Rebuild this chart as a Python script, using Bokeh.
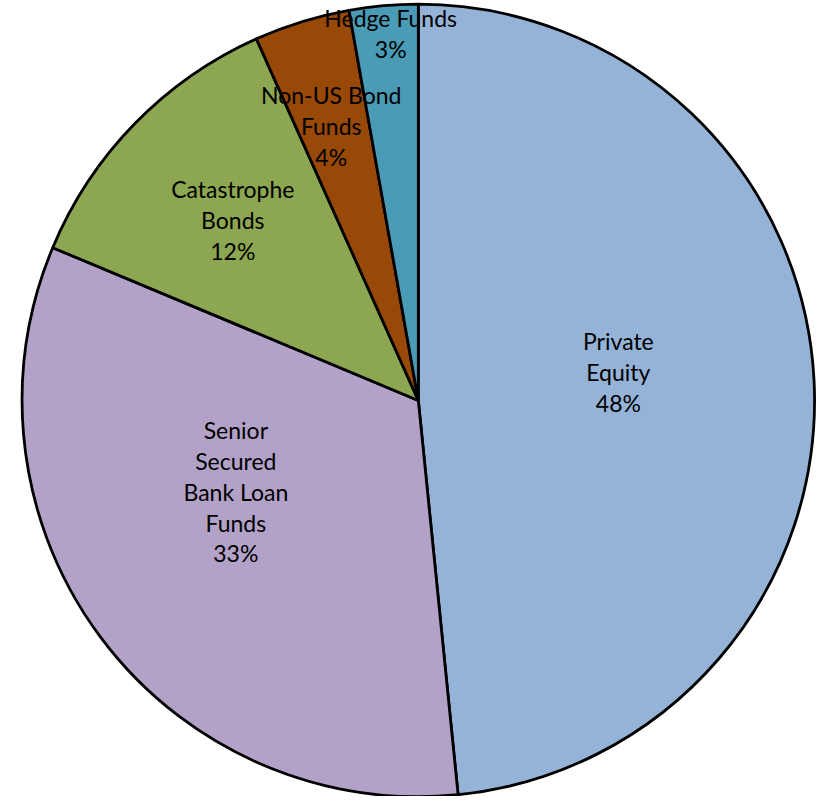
import math
from bokeh.plotting import figure
from bokeh.models import ColumnDataSource, Range1d
from bokeh.core.properties import value
from bokeh.embed import file_html
from bokeh.resources import INLINE

# data
categories = ["Private Equity", "Senior Secured Bank Loan Funds", "Catastrophe Bonds",
              "Non-US Bond Funds", "Hedge Funds"]
shares = [48.4, 32.9, 12.0, 3.9, 2.8]
pct_labels = ["48%", "33%", "12%", "4%", "3%"]
label_lines = ["Private\nEquity", "Senior\nSecured\nBank Loan\nFunds", "Catastrophe\nBonds",
               "Non-US Bond\nFunds", "Hedge Funds"]
colors = ["#95B3D7", "#B3A2C7", "#8CA651", "#984807", "#4A9BB5"]

# layout: data units follow the reference picture (833 x 812), y pointing up
W, H = 817, 796
REF_W, REF_H = 833, 812
cx, cy = 426, REF_H - 408
R = 404
# label placement: (radius fraction, clockwise angle from top in degrees)
label_polar = [(0.51, 81.9), (0.515, 243.4), (0.653, 314.2), (0.727, 342.4), (0.93, 355.7)]

total = sum(shares)
starts, ends = [], []
cum = 0.0
for s in shares:
    starts.append(math.pi / 2 - 2 * math.pi * cum / total)
    cum += s
    ends.append(math.pi / 2 - 2 * math.pi * cum / total)

src = ColumnDataSource(dict(start=starts, end=ends, color=colors, cat=categories))

p = figure(width=W, height=H, output_backend="svg", toolbar_location=None,
           x_range=Range1d(0, REF_W), y_range=Range1d(0, REF_H),
           min_border=0)
p.axis.visible = False
p.grid.visible = False
p.outline_line_color = None
p.background_fill_color = "white"
p.border_fill_color = "white"

p.wedge(x=cx, y=cy, radius=R, start_angle="start", end_angle="end", direction="clock",
        fill_color="color", line_color="black", line_width=2.8, source=src)

lx, ly, lt = [], [], []
for (f, a), txt, pc in zip(label_polar, label_lines, pct_labels):
    ang = math.radians(a)
    lx.append(cx + f * R * math.sin(ang))
    ly.append(cy + f * R * math.cos(ang))
    lt.append(txt + "\n" + pc)
lsrc = ColumnDataSource(dict(x=lx, y=ly, t=lt))
p.text(x="x", y="y", text="t", source=lsrc, text_align="center", text_baseline="middle",
       text_font=value("Lato"), text_font_size="23px", text_color="black",
       text_line_height=1.1)

open("out.html", "w").write(file_html(p, INLINE))
